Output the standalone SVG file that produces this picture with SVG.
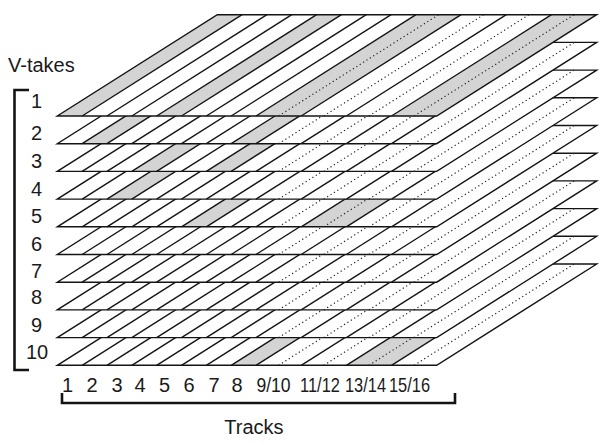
<svg xmlns="http://www.w3.org/2000/svg" xmlns:xlink="http://www.w3.org/1999/xlink" width="601" height="443" viewBox="0 0 601 443">
<style>
.lbl{font-family:"Liberation Sans",Arial,sans-serif;font-size:20px;fill:#1a1a1a}
.num{text-anchor:middle}
.gray{fill:#d4d4d4}
.sl{stroke:#141414;stroke-width:1.4;fill:none}
.dl{stroke:#222;stroke-width:1.2;fill:none;stroke-dasharray:1.2 2.8}
.br{stroke:#141414;stroke-width:2.6;fill:none}
</style>
<defs>
<polygon id="paper" points="57.3,116 436.7,116 596.7,14.7 217.3,14.7" fill="#fff"/>
<polygon id="s1" points="57.3,116 82.14,116 242.14,14.7 217.3,14.7"/>
<polygon id="s2" points="82.14,116 106.98,116 266.98,14.7 242.14,14.7"/>
<polygon id="s3" points="106.98,116 131.82,116 291.82,14.7 266.98,14.7"/>
<polygon id="s4" points="131.82,116 156.65,116 316.65,14.7 291.82,14.7"/>
<polygon id="s5" points="156.65,116 181.49,116 341.49,14.7 316.65,14.7"/>
<polygon id="s6" points="181.49,116 206.33,116 366.33,14.7 341.49,14.7"/>
<polygon id="s7" points="206.33,116 231.16,116 391.16,14.7 366.33,14.7"/>
<polygon id="s8" points="231.16,116 256,116 416,14.7 391.16,14.7"/>
<polygon id="p9" points="256,116 301.18,116 461.18,14.7 416,14.7"/>
<polygon id="p11" points="301.18,116 346.35,116 506.35,14.7 461.18,14.7"/>
<polygon id="p13" points="346.35,116 391.53,116 551.53,14.7 506.35,14.7"/>
<polygon id="p15" points="391.53,116 436.7,116 596.7,14.7 551.53,14.7"/>
<g id="grid">
<g class="sl">
<line x1="82.14" y1="116" x2="242.14" y2="14.7"/>
<line x1="106.98" y1="116" x2="266.98" y2="14.7"/>
<line x1="131.82" y1="116" x2="291.82" y2="14.7"/>
<line x1="156.65" y1="116" x2="316.65" y2="14.7"/>
<line x1="181.49" y1="116" x2="341.49" y2="14.7"/>
<line x1="206.33" y1="116" x2="366.33" y2="14.7"/>
<line x1="231.16" y1="116" x2="391.16" y2="14.7"/>
<line x1="256" y1="116" x2="416" y2="14.7"/>
<line x1="301.18" y1="116" x2="461.18" y2="14.7"/>
<line x1="346.35" y1="116" x2="506.35" y2="14.7"/>
<line x1="391.53" y1="116" x2="551.53" y2="14.7"/>
<polygon points="57.3,116 436.7,116 596.7,14.7 217.3,14.7" stroke-linejoin="miter"/>
</g>
<g class="dl">
<line x1="278.59" y1="116" x2="438.59" y2="14.7"/>
<line x1="323.76" y1="116" x2="483.76" y2="14.7"/>
<line x1="368.94" y1="116" x2="528.94" y2="14.7"/>
<line x1="414.11" y1="116" x2="574.11" y2="14.7"/>
</g>
</g>
</defs>

<g id="layer-10" transform="translate(0,249.3)">
<use xlink:href="#paper"/><use xlink:href="#s8" class="gray"/><use xlink:href="#p13" class="gray"/><use xlink:href="#grid"/>
</g>
<g id="layer-9" transform="translate(0,221.6)">
<use xlink:href="#paper"/><use xlink:href="#grid"/>
</g>
<g id="layer-8" transform="translate(0,193.9)">
<use xlink:href="#paper"/><use xlink:href="#grid"/>
</g>
<g id="layer-7" transform="translate(0,166.2)">
<use xlink:href="#paper"/><use xlink:href="#grid"/>
</g>
<g id="layer-6" transform="translate(0,138.5)">
<use xlink:href="#paper"/><use xlink:href="#grid"/>
</g>
<g id="layer-5" transform="translate(0,110.8)">
<use xlink:href="#paper"/><use xlink:href="#s6" class="gray"/><use xlink:href="#p11" class="gray"/><use xlink:href="#grid"/>
</g>
<g id="layer-4" transform="translate(0,83.1)">
<use xlink:href="#paper"/><use xlink:href="#s3" class="gray"/><use xlink:href="#grid"/>
</g>
<g id="layer-3" transform="translate(0,55.4)">
<use xlink:href="#paper"/><use xlink:href="#s4" class="gray"/><use xlink:href="#s7" class="gray"/><use xlink:href="#grid"/>
</g>
<g id="layer-2" transform="translate(0,27.7)">
<use xlink:href="#paper"/><use xlink:href="#s2" class="gray"/><use xlink:href="#s8" class="gray"/><use xlink:href="#grid"/>
</g>
<g id="layer-1">
<use xlink:href="#paper"/><use xlink:href="#s1" class="gray"/><use xlink:href="#s5" class="gray"/><use xlink:href="#p9" class="gray"/><use xlink:href="#p15" class="gray"/><use xlink:href="#grid"/>
</g>

<g id="connectors">
<path class="br" d="M29,90 H14.5 V370 H29"/>
<path class="br" d="M62,393 V403 H455 V393"/>
</g>

<g id="labels">
<text class="lbl" x="8" y="72">V-takes</text>
<text class="lbl num" x="36.5" y="107.5">1</text>
<text class="lbl num" x="36.5" y="140">2</text>
<text class="lbl num" x="36.5" y="167.5">3</text>
<text class="lbl num" x="36.5" y="195.5">4</text>
<text class="lbl num" x="36.5" y="223">5</text>
<text class="lbl num" x="36.5" y="250.5">6</text>
<text class="lbl num" x="36.5" y="277.5">7</text>
<text class="lbl num" x="36.5" y="304">8</text>
<text class="lbl num" x="36.5" y="331.5">9</text>
<text class="lbl num" x="37" y="359">10</text>
<text class="lbl num" x="67.5" y="392">1</text>
<text class="lbl num" x="92" y="392">2</text>
<text class="lbl num" x="117" y="392">3</text>
<text class="lbl num" x="140" y="392">4</text>
<text class="lbl num" x="164.5" y="392">5</text>
<text class="lbl num" x="189" y="392">6</text>
<text class="lbl num" x="214" y="392">7</text>
<text class="lbl num" x="237" y="392">8</text>
<text class="lbl num" transform="translate(273.5,392) scale(0.88,1)">9/10</text>
<text class="lbl num" transform="translate(320,392) scale(0.82,1)">11/12</text>
<text class="lbl num" transform="translate(365.5,392) scale(0.82,1)">13/14</text>
<text class="lbl num" transform="translate(409.5,392) scale(0.82,1)">15/16</text>
<text class="lbl num" x="254" y="434">Tracks</text>
</g>
</svg>
